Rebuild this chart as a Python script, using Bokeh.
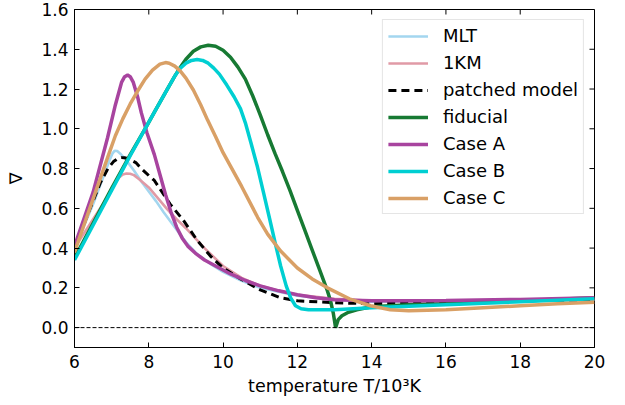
import math
from bokeh.plotting import figure
from bokeh.models import Range1d, FixedTicker, PrintfTickFormatter, Span
from bokeh.embed import file_html
from bokeh.resources import INLINE

# ---- data ----
mlt_T = [6.0, 6.25, 6.5, 6.8, 6.95, 7.02, 7.08, 7.15, 7.25, 7.4, 7.6, 7.8, 8.0, 8.2, 8.4, 8.6, 8.8, 9.0, 9.3, 9.7, 10.0, 10.5, 11.0, 12.0, 13.0, 14.0, 16.0, 18.0, 20.0]
mlt_v = [0.40, 0.51, 0.62, 0.77, 0.845, 0.875, 0.89, 0.888, 0.872, 0.84, 0.79, 0.735, 0.685, 0.635, 0.58, 0.53, 0.48, 0.43, 0.37, 0.315, 0.28, 0.235, 0.20, 0.16, 0.14, 0.13, 0.13, 0.135, 0.14]

km_T = [6.0, 6.5, 6.9, 7.05, 7.2, 7.3, 7.4, 7.5, 7.6, 7.75, 8.0, 8.25, 8.5, 8.75, 9.0, 9.5, 10.0, 10.5, 11.0, 11.5, 12.0, 13.0, 14.0, 16.0, 18.0, 20.0]
km_v = [0.40, 0.545, 0.66, 0.715, 0.755, 0.77, 0.775, 0.774, 0.767, 0.745, 0.705, 0.65, 0.595, 0.545, 0.50, 0.40, 0.31, 0.25, 0.21, 0.185, 0.165, 0.145, 0.135, 0.13, 0.135, 0.14]

pm_T = [6.0, 6.4, 6.7, 6.9, 7.05, 7.15, 7.26, 7.35, 7.45, 7.65, 7.8, 8.0, 8.15, 8.4, 8.58, 8.93, 9.3, 9.66, 10.0, 10.47, 11.0, 11.55, 12.0, 13.0, 14.0, 16.0, 18.0, 20.0]
pm_v = [0.40, 0.59, 0.73, 0.80, 0.835, 0.848, 0.855, 0.854, 0.85, 0.83, 0.80, 0.765, 0.74, 0.67, 0.62, 0.54, 0.44, 0.36, 0.30, 0.245, 0.19, 0.15, 0.135, 0.125, 0.12, 0.125, 0.135, 0.14]

fid_T = [6.0, 6.5, 7.0, 7.5, 7.9, 8.2, 8.5, 8.7, 8.85, 9.0, 9.2, 9.4, 9.6, 9.8, 10.0, 10.2, 10.4, 10.6, 10.8, 11.0, 11.2, 11.4, 11.6, 11.8, 12.0, 12.2, 12.4, 12.6, 12.8, 12.9, 12.97, 13.03, 13.1, 13.2, 13.35, 13.6, 14.0, 15.0, 16.0, 18.0, 20.0]
fid_v = [0.35, 0.525, 0.70, 0.87, 1.0, 1.1, 1.2, 1.265, 1.31, 1.35, 1.39, 1.412, 1.42, 1.415, 1.395, 1.36, 1.31, 1.25, 1.165, 1.07, 0.97, 0.875, 0.785, 0.69, 0.59, 0.49, 0.39, 0.29, 0.19, 0.13, 0.07, 0.0, 0.04, 0.06, 0.075, 0.09, 0.105, 0.115, 0.12, 0.135, 0.15]

a_T = [6.0, 6.5, 6.89, 7.1, 7.27, 7.35, 7.43, 7.5, 7.58, 7.7, 7.8, 7.95, 8.15, 8.3, 8.45, 8.6, 8.75, 8.9, 9.05, 9.25, 9.5, 9.8, 10.2, 10.6, 11.0, 11.5, 12.0, 12.5, 13.0, 14.0, 15.0, 16.0, 18.0, 20.0]
a_v = [0.41, 0.68, 0.955, 1.12, 1.235, 1.262, 1.27, 1.262, 1.235, 1.16, 1.08, 0.98, 0.87, 0.77, 0.67, 0.58, 0.505, 0.45, 0.41, 0.375, 0.34, 0.31, 0.27, 0.237, 0.21, 0.185, 0.165, 0.15, 0.14, 0.135, 0.135, 0.137, 0.142, 0.15]

b_T = [6.0, 6.5, 7.0, 7.5, 7.9, 8.2, 8.5, 8.7, 8.85, 9.0, 9.15, 9.3, 9.45, 9.6, 9.75, 9.9, 10.1, 10.3, 10.47, 10.6, 10.75, 10.93, 11.1, 11.25, 11.41, 11.55, 11.7, 11.82, 11.95, 12.1, 12.3, 13.0, 13.5, 14.0, 16.0, 18.0, 20.0]
b_v = [0.34, 0.515, 0.69, 0.865, 1.0, 1.1, 1.2, 1.265, 1.305, 1.33, 1.344, 1.348, 1.344, 1.33, 1.305, 1.275, 1.22, 1.16, 1.10, 1.03, 0.93, 0.805, 0.67, 0.55, 0.42, 0.31, 0.21, 0.15, 0.11, 0.095, 0.09, 0.09, 0.095, 0.10, 0.115, 0.13, 0.145]

c_T = [6.0, 6.3, 6.6, 6.9, 7.1, 7.3, 7.5, 7.7, 7.9, 8.1, 8.3, 8.45, 8.55, 8.7, 8.85, 9.0, 9.2, 9.4, 9.58, 9.8, 10.0, 10.5, 10.93, 11.2, 11.55, 12.0, 12.4, 12.81, 13.4, 13.97, 14.5, 15.0, 16.0, 17.0, 18.0, 19.0, 20.0]
c_v = [0.38, 0.54, 0.70, 0.86, 0.965, 1.05, 1.125, 1.19, 1.25, 1.295, 1.325, 1.333, 1.33, 1.315, 1.29, 1.255, 1.195, 1.12, 1.045, 0.96, 0.88, 0.71, 0.555, 0.47, 0.385, 0.30, 0.245, 0.20, 0.145, 0.11, 0.09, 0.085, 0.09, 0.10, 0.11, 0.12, 0.127]

x_ticks = [6, 8, 10, 12, 14, 16, 18, 20]
y_ticks = [0.0, 0.2, 0.4, 0.6, 0.8, 1.0, 1.2, 1.4, 1.6]
x_min, x_max = 6, 20
y_min, y_max = -0.1, 1.6

FONT = "DejaVu Sans"

p = figure(frame_width=520, frame_height=338,
           min_border_left=74, min_border_right=24, min_border_top=9, min_border_bottom=51,
           x_range=Range1d(x_min, x_max), y_range=Range1d(y_min, y_max),
           output_backend="svg", toolbar_location=None)
p.xgrid.visible = False
p.ygrid.visible = False
p.outline_line_color = "black"
p.outline_line_width = 1
p.background_fill_color = "white"
p.border_fill_color = "white"

xa = p.xaxis[0]
ya = p.yaxis[0]
xa.ticker = FixedTicker(ticks=x_ticks)
ya.ticker = FixedTicker(ticks=y_ticks)
ya.formatter = PrintfTickFormatter(format="%.1f")
for ax in (xa, ya):
    ax.major_tick_in = 5
    ax.major_tick_out = 0
    ax.minor_tick_in = 0
    ax.minor_tick_out = 0
    ax.major_tick_line_color = "black"
    ax.axis_line_color = "black"
    ax.major_label_text_font = FONT
    ax.major_label_text_font_size = "17px"
    ax.major_label_text_color = "black"
    ax.axis_label_text_font = FONT
    ax.axis_label_text_font_size = "17.5px"
    ax.axis_label_text_font_style = "normal"
    ax.axis_label_text_color = "black"
xa.major_label_standoff = 7
ya.major_label_standoff = 6
xa.axis_label = "temperature T/10³K"
ya.axis_label = "∇"
xa.axis_label_standoff = 5
ya.axis_label_standoff = 12

# inward ticks on the top and right edges
p.ray(x=x_ticks, y=[y_max] * len(x_ticks), length=5, length_units="screen",
      angle=-math.pi / 2, line_color="black", line_width=1)
p.ray(x=[x_max] * len(y_ticks), y=y_ticks, length=5, length_units="screen",
      angle=math.pi, line_color="black", line_width=1)

p.add_layout(Span(location=0, dimension="width", line_color="black", line_width=1, line_dash="4 2"))

p.line(mlt_T, mlt_v, line_color="#a3d6ef", line_width=2.6, legend_label="MLT")
p.line(km_T, km_v, line_color="#e09aa6", line_width=2.6, legend_label="1KM")
p.line(pm_T, pm_v, line_color="black", line_width=3, line_dash="8 5", legend_label="patched model")
p.line(fid_T, fid_v, line_color="#177a33", line_width=3.5, legend_label="fiducial")
p.line(a_T, a_v, line_color="#a8449f", line_width=3.5, legend_label="Case A")
p.line(b_T, b_v, line_color="#00cfd2", line_width=3.5, legend_label="Case B")
p.line(c_T, c_v, line_color="#d9a066", line_width=3.5, legend_label="Case C")

lg = p.legend[0]
lg.location = "top_right"
lg.margin = 10
lg.padding = 5
lg.spacing = 6
lg.glyph_width = 40
lg.glyph_height = 20
lg.label_height = 20
lg.label_standoff = 15
lg.label_text_font = FONT
lg.label_text_font_size = "18px"
lg.label_text_color = "black"
lg.border_line_color = "#cccccc"
lg.border_line_width = 1
lg.background_fill_alpha = 0.8

open("out.html", "w").write(file_html(p, INLINE))
